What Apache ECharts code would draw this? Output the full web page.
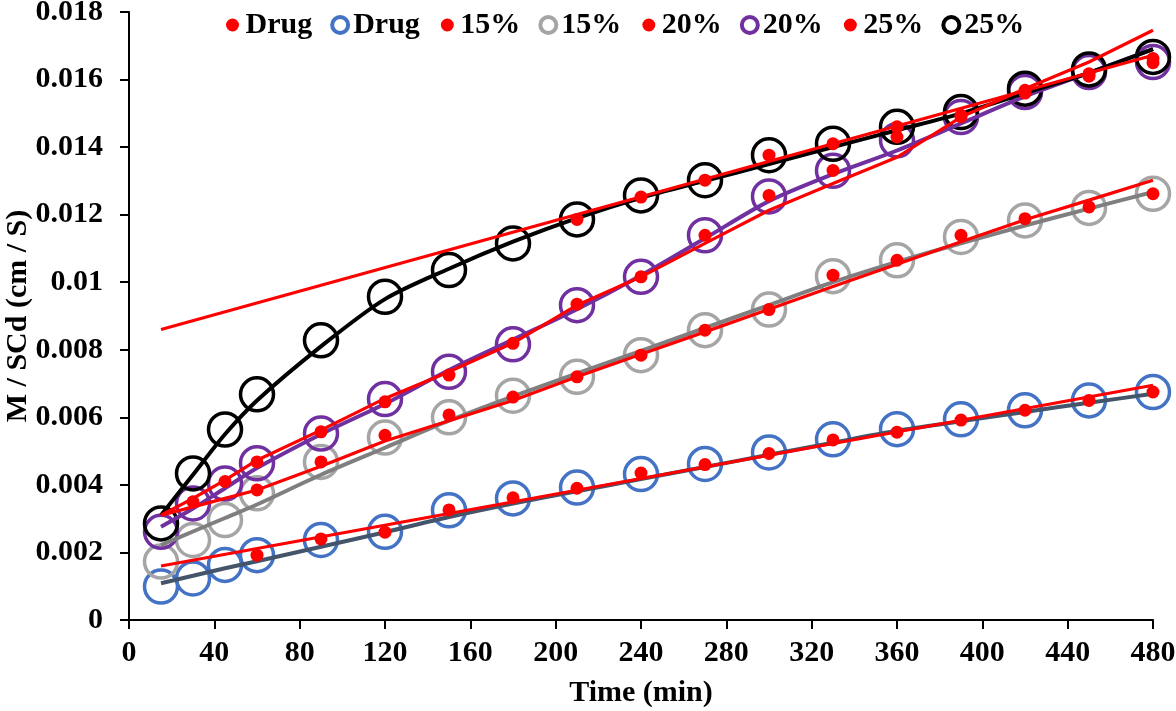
<!DOCTYPE html>
<html>
<head>
<meta charset="utf-8">
<script src="https://cdn.jsdelivr.net/npm/echarts@6/dist/echarts.min.js"></script>
<style>
html,body{margin:0;padding:0;background:#fff;}
#chart{width:1176px;height:711px;}
</style>
</head>
<body>
<div id="chart"></div>
<script>
// ---- data ----
const times = [15,30,45,60,90,120,150,180,210,240,270,300,330,360,390,420,450,480];
const fitEnds = [15, 480];
const xTicks = [0,40,80,120,160,200,240,280,320,360,400,440,480];
const yTicks = ['0','0.002','0.004','0.006','0.008','0.01','0.012','0.014','0.016','0.018'];
const legendLabels = ['Drug','Drug','15%','15%','20%','20%','25%','25%'];

// Drug
const drugObs   = [0.00099,0.00123,0.00163,0.00192,0.00237,0.00261,0.00325,0.0036,0.00392,0.00432,0.00462,0.00496,0.00535,0.00565,0.00594,0.00621,0.0065,0.00675];
const drugModel = [null,null,null,0.00192,0.0024,0.0026,0.00326,0.00362,0.0039,0.00435,0.0046,0.00493,0.00533,0.00556,0.00592,0.00621,0.0065,0.00675];
const drugTrend = [0.00109,0.00131,0.00153,0.00174,0.00217,0.0026,0.00305,0.00345,0.00381,0.00417,0.00453,0.00489,0.00525,0.0056,0.00588,0.00616,0.00643,0.0067];
const drugRedFit = [0.0016,0.00695];

// 15%
const p15Obs   = [0.00173,0.00237,0.00296,0.00375,0.00468,0.0054,0.006,0.00664,0.0072,0.00784,0.00858,0.00919,0.01018,0.01065,0.01134,0.01183,0.0122,0.01262];
const p15Model = [null,null,null,0.00385,0.00468,0.00547,0.00607,0.0066,0.0072,0.00784,0.00858,0.00919,0.01021,0.01065,0.01139,0.01188,0.01223,0.01262];
const p15Trend = [0.00222,0.00262,0.00302,0.00342,0.0043,0.0051,0.0059,0.00662,0.0073,0.00797,0.00865,0.00932,0.01,0.0106,0.01115,0.01168,0.01218,0.01267];
const p15RedFit = [0.0031,0.00335,0.0036,0.00385,0.00455,0.0053,0.0059,0.0065,0.0072,0.00787,0.00853,0.0092,0.00987,0.01053,0.0112,0.01185,0.01243,0.01302];

// 20%
const p20Obs   = [0.00261,0.00345,0.00404,0.00464,0.00552,0.00654,0.00735,0.00816,0.00932,0.01016,0.01139,0.01254,0.0133,0.0142,0.01489,0.01563,0.01622,0.01652];
const p20Model = [null,0.0035,0.0041,0.00468,0.00557,0.00646,0.00725,0.00819,0.00935,0.01016,0.01139,0.01257,0.01331,0.0143,0.0149,0.0156,0.0161,0.0165];
const p20Trend = [0.00276,0.0033,0.0039,0.0045,0.0055,0.0064,0.0074,0.0083,0.0092,0.0102,0.0113,0.0124,0.0132,0.0139,0.0147,0.0155,0.0162,0.0169];
const p20RedFit = [0.0031,0.0036,0.00414,0.00473,0.00562,0.00656,0.00735,0.0082,0.00932,0.01016,0.01115,0.01213,0.01292,0.0137,0.01489,0.01573,0.01652,0.01746];

// 25%
const p25Obs   = [0.00286,0.00434,0.00564,0.00668,0.00828,0.00957,0.01036,0.01115,0.01186,0.01257,0.01302,0.01376,0.0141,0.0146,0.01504,0.01573,0.0163,0.01667];
const p25Model = [null,null,null,null,null,null,null,null,0.01186,0.01252,0.01302,0.01376,0.0141,0.0146,0.01494,0.01568,0.01617,0.01662];
const p25Trend = [0.0031,0.0043,0.0055,0.0065,0.0081,0.0095,0.0104,0.0112,0.0119,0.0125,0.013,0.0135,0.014,0.0145,0.015,0.0156,0.0162,0.0169];
const p25RedFit = [0.0086,0.01672];

// ---- build ----
const RED = '#FF0000';
const FONT = "'Liberation Serif','Times New Roman',serif";
function pairs(xs, ys){ const out=[]; xs.forEach((x,i)=>{ if(ys[i]!==null && ys[i]!==undefined) out.push([x, ys[i]]); }); return out; }

const groups = [
  {key:'Drug', obs:drugObs, model:drugModel, trend:drugTrend, redFit:drugRedFit, redX:fitEnds, circ:'#4472C4', line:'#44546A'},
  {key:'15%', obs:p15Obs, model:p15Model, trend:p15Trend, redFit:p15RedFit, redX:times, circ:'#A5A5A5', line:'#7F7F7F'},
  {key:'20%', obs:p20Obs, model:p20Model, trend:p20Trend, redFit:p20RedFit, redX:times, circ:'#7030A0', line:'#7030A0'},
  {key:'25%', obs:p25Obs, model:p25Model, trend:p25Trend, redFit:p25RedFit, redX:fitEnds, circ:'#000000', line:'#000000'}
];

const circleSeries = [], trendSeries = [], redLineSeries = [], dotSeries = [];
const legendData = [];
groups.forEach((g, gi)=>{
  legendData.push({name: legendLabels[gi*2] + '|m', icon:'circle', itemStyle:{color:RED, borderColor:'#ffffff', borderWidth:3}});
  legendData.push({name: legendLabels[gi*2+1] + '|o', icon:'circle', itemStyle:{color:'rgba(0,0,0,0)', borderColor:g.circ, borderWidth:4}});
  circleSeries.push({
    name: g.key + '|o', type:'scatter', symbol:'circle', symbolSize:33, z:2,
    itemStyle:{color:'rgba(0,0,0,0)', borderColor:g.circ, borderWidth:3.5, opacity:1},
    data: pairs(times, g.obs)
  });
  trendSeries.push({
    name: g.key + '|t', type:'line', smooth:0.3, showSymbol:false, symbol:'none', z:3,
    lineStyle:{color:g.line, width:4}, data: pairs(times, g.trend)
  });
  redLineSeries.push({
    name: g.key + '|f', type:'line', showSymbol:false, symbol:'none', z:4,
    lineStyle:{color:RED, width:3.2}, data: pairs(g.redX, g.redFit)
  });
  dotSeries.push({
    name: g.key + '|m', type:'scatter', symbol:'circle', symbolSize:13, z:5,
    itemStyle:{color:RED, opacity:1}, data: pairs(times, g.model)
  });
});

const chart = echarts.init(document.getElementById('chart'));
chart.setOption({
  animation:false,
  backgroundColor:'#ffffff',
  legend:{
    data: legendData, left:218, top:5, orient:'horizontal',
    itemWidth:16, itemHeight:16, itemGap:18, selectedMode:false,
    formatter: n => n.split('|')[0],
    textStyle:{fontFamily:FONT, fontWeight:'bold', fontSize:30, color:'#000'}
  },
  grid:{left:129, right:23, top:12, bottom:91, containLabel:false, outerBoundsMode:'none'},
  xAxis:{
    type:'value', min:xTicks[0], max:xTicks[xTicks.length-1], interval:xTicks[1]-xTicks[0],
    name:'Time (min)', nameLocation:'middle', nameGap:58, nameMoveOverlap:false,
    nameTextStyle:{fontFamily:FONT, fontWeight:'bold', fontSize:30, color:'#000'},
    axisLine:{show:true, lineStyle:{color:'#000', width:2}},
    axisTick:{show:true, inside:false, length:9, lineStyle:{color:'#000', width:2}},
    axisLabel:{margin:18, fontFamily:FONT, fontWeight:'bold', fontSize:30, color:'#000'},
    splitLine:{show:false}
  },
  yAxis:{
    type:'value', min:0, max:0.018, interval:0.002,
    name:'M / SCd (cm / S)', nameLocation:'middle', nameGap:96, nameMoveOverlap:false,
    nameTextStyle:{fontFamily:FONT, fontWeight:'bold', fontSize:30, color:'#000'},
    axisLine:{show:true, lineStyle:{color:'#000', width:2}},
    axisTick:{show:true, inside:false, length:9, lineStyle:{color:'#000', width:2}},
    axisLabel:{margin:26, fontFamily:FONT, fontWeight:'bold', fontSize:30, color:'#000',
      formatter: v => yTicks[Math.round(v/0.002)]},
    splitLine:{show:false}
  },
  series: [].concat(circleSeries, trendSeries, redLineSeries, dotSeries)
});
</script>
</body>
</html>
